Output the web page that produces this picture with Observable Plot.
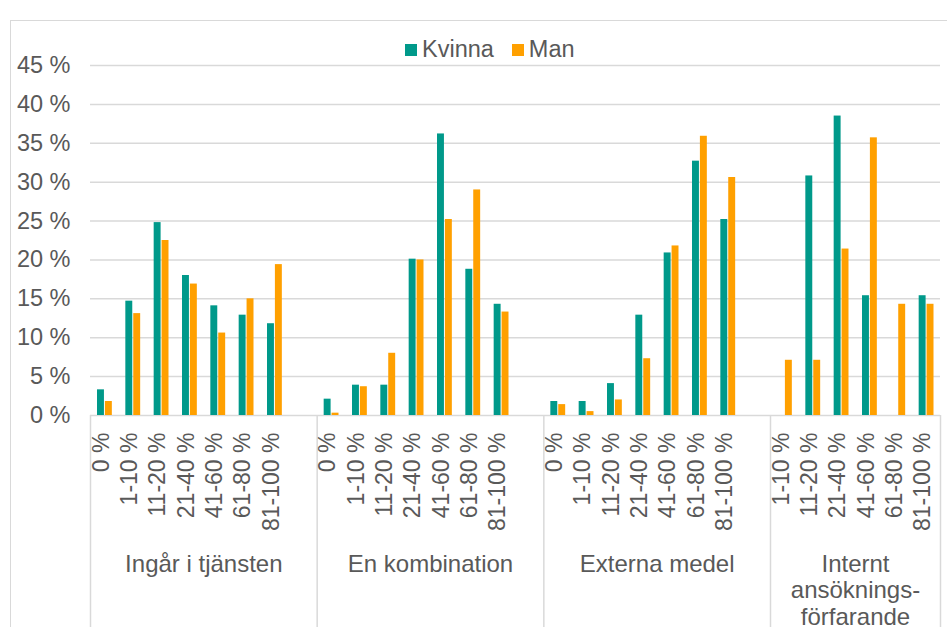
<!DOCTYPE html>
<html>
<head>
<meta charset="utf-8">
<script src="https://cdn.jsdelivr.net/npm/d3@7"></script>
<script src="https://cdn.jsdelivr.net/npm/@observablehq/plot@0.6"></script>
<style>
  html, body { margin: 0; padding: 0; background: #fff; overflow: hidden; width: 947px; height: 627px; }
  #frame { position: absolute; left: 10px; top: 20px; width: 1000px; height: 1000px; border: 1px solid #d9d9d9; box-sizing: border-box; }
  #chart { position: absolute; left: 0; top: 0; }
  #legend { position: absolute; left: 405px; top: 36px; font-family: "Liberation Sans", Arial, sans-serif; font-size: 23.5px; color: #595959; display: flex; align-items: center; white-space: nowrap; }
  #legend .sw { display: inline-block; width: 12px; height: 12px; margin-right: 5px; }
  #legend .item { display: flex; align-items: center; margin-right: 18px; }
</style>
</head>
<body>
<div id="frame"></div>
<div id="chart"></div>
<div id="legend"></div>
<script>
// ---- data ----
const groups = ["Ingår i tjänsten", "En kombination", "Externa medel", "Internt\nansöknings-\nförfarande"];
const catsFull = ["0 %", "1-10 %", "11-20 %", "21-40 %", "41-60 %", "61-80 %", "81-100 %"];
const catsInternt = ["1-10 %", "11-20 %", "21-40 %", "41-60 %", "61-80 %", "81-100 %"];
const groupCats = [catsFull, catsFull, catsFull, catsInternt];

const series = ["Kvinna", "Man"];
const colors = ["#00998a", "#ffa000"];

const kvinnaIngar = [3.3, 14.7, 24.8, 18.0, 14.1, 12.9, 11.8];
const manIngar    = [1.8, 13.1, 22.5, 16.9, 10.6, 15.0, 19.4];
const kvinnaKomb  = [2.1, 3.9, 3.9, 20.1, 36.2, 18.8, 14.3];
const manKomb     = [0.3, 3.7, 8.0, 20.0, 25.2, 29.0, 13.3];
const kvinnaExt   = [1.8, 1.8, 4.1, 12.9, 20.9, 32.7, 25.2];
const manExt      = [1.4, 0.5, 2.0, 7.3, 21.8, 35.9, 30.6];
const kvinnaInt   = [0, 30.8, 38.5, 15.4, 0, 15.4];
const manInt      = [7.1, 7.1, 21.4, 35.7, 14.3, 14.3];

const kvinnaVals = [kvinnaIngar, kvinnaKomb, kvinnaExt, kvinnaInt];
const manVals = [manIngar, manKomb, manExt, manInt];

const yTicks = [0, 5, 10, 15, 20, 25, 30, 35, 40, 45];

// ---- build table ----
const rows = [];
const ticks = [];
const groupSpans = [];
const dividers = [0];
let idx = 0;
groups.forEach((g, gi) => {
  const start = idx;
  groupCats[gi].forEach((c, ci) => {
    rows.push({group: g, cat: c, sex: series[0], value: kvinnaVals[gi][ci], i: idx});
    rows.push({group: g, cat: c, sex: series[1], value: manVals[gi][ci], i: idx});
    ticks.push({cat: c, i: idx});
    idx++;
  });
  if (gi < groups.length - 1) idx++; // blank slot between groups
  groupSpans.push({group: g, start, end: idx});
  dividers.push(idx);
});
const nSlots = idx;

const textColor = "#595959";
const gridColor = "#d9d9d9";
const font = "'Liberation Sans', Arial, sans-serif";

const plot = Plot.plot({
  width: 947,
  height: 627,
  marginLeft: 90,
  marginRight: 7,
  marginTop: 65,
  marginBottom: 212,
  style: {background: "transparent", fontFamily: font, color: textColor, overflow: "visible"},
  x: {domain: [0, nSlots], axis: null},
  y: {domain: [0, 45], axis: null},
  marks: [
    Plot.gridY(yTicks, {stroke: gridColor, strokeOpacity: 1, strokeWidth: 1.5}),
    Plot.axisY(yTicks, {tickSize: 0, tickPadding: 20, fontSize: 23.5, fill: textColor, tickFormat: d => d + " %", label: null}),
    Plot.ruleX(dividers, {x: d => d, y1: 0, y2: -30, stroke: gridColor, strokeWidth: 1.5, clip: false}),
    Plot.rectY(rows.filter(d => d.sex === "Kvinna"), {x1: d => d.i, x2: d => d.i + 1, y: "value", fill: colors[0], insetLeft: 7, insetRight: 14.4}),
    Plot.rectY(rows.filter(d => d.sex === "Man"), {x1: d => d.i, x2: d => d.i + 1, y: "value", fill: colors[1], insetLeft: 14.9, insetRight: 6.5}),
    Plot.text(ticks, {x: d => d.i + 0.5, frameAnchor: "bottom", dx: 4, dy: 17, rotate: -90, textAnchor: "end", text: "cat", fontSize: 23, fill: textColor}),
    Plot.text(groupSpans, {x: d => (d.start + d.end) / 2, frameAnchor: "bottom", dy: 137, lineAnchor: "top", lineHeight: 1.12, text: "group", fontSize: 24, fill: textColor})
  ]
});
document.getElementById("chart").appendChild(plot);

const legend = document.getElementById("legend");
series.forEach((s, i) => {
  const item = document.createElement("span");
  item.className = "item";
  item.innerHTML = `<span class="sw" style="background:${colors[i]}"></span>${s}`;
  legend.appendChild(item);
});
</script>
</body>
</html>
